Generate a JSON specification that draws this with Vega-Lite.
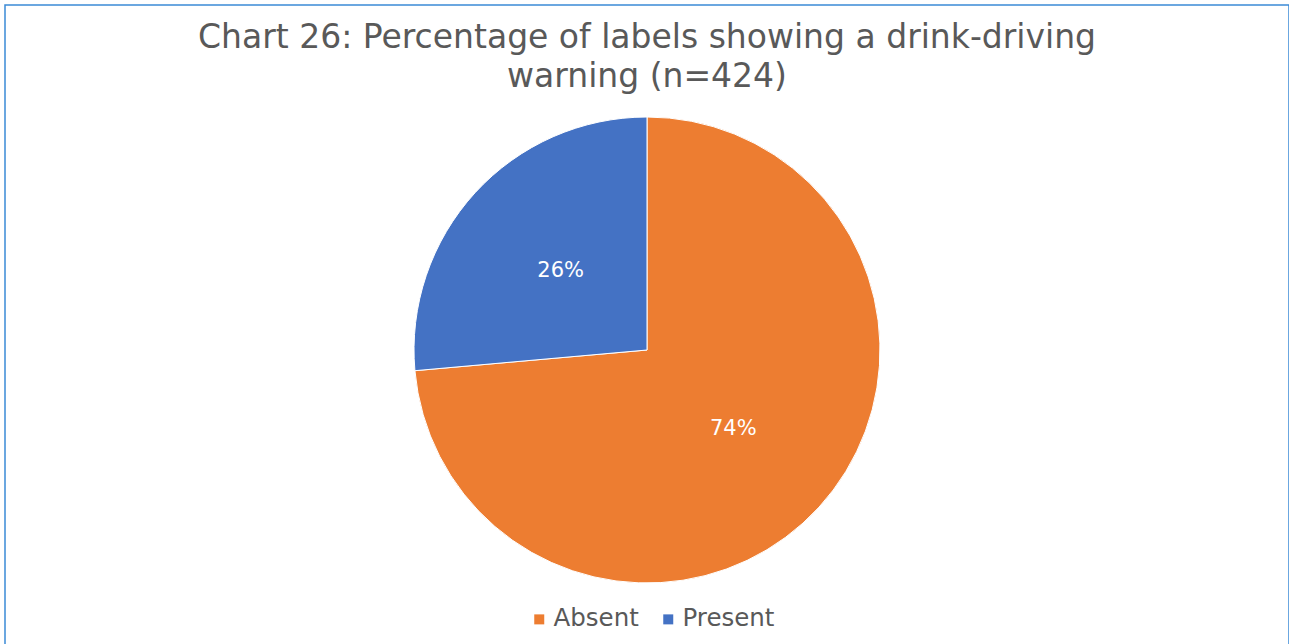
{
  "$schema": "https://vega.github.io/schema/vega-lite/v6.json",
  "width": 1284,
  "height": 690,
  "autosize": {"type": "none"},
  "padding": {"left": 5, "top": 5, "right": 0, "bottom": 0},
  "background": "white",
  "view": {"stroke": "#3b8ad6", "strokeWidth": 1.5, "fill": "white"},
  "title": {
    "text": ["Chart 26: Percentage of labels showing a drink-driving", "warning (n=424)"],
    "font": "DejaVu Sans",
    "fontSize": 33,
    "fontWeight": "normal",
    "color": "#595959",
    "lineHeight": 39,
    "offset": -89,
    "anchor": "middle"
  },
  "data": {
    "values": [
      {"category": "Absent", "count": 312, "label": "74%"},
      {"category": "Present", "count": 112, "label": "26%"}
    ]
  },
  "encoding": {
    "theta": {"field": "count", "type": "quantitative", "stack": true},
    "order": {"field": "category", "type": "nominal"}
  },
  "layer": [
    {
      "mark": {"type": "arc", "outerRadius": 233, "stroke": "white", "strokeWidth": 1},
      "encoding": {
        "color": {
          "field": "category",
          "type": "nominal",
          "scale": {"domain": ["Absent", "Present"], "range": ["#ED7D31", "#4472C4"]},
          "legend": {
            "title": null,
            "orient": "none",
            "direction": "horizontal",
            "legendX": 522,
            "legendY": 602,
            "symbolType": "square",
            "symbolSize": 100,
            "symbolStrokeWidth": 0,
            "labelFont": "DejaVu Sans",
            "labelFontSize": 24.5,
            "labelColor": "#595959",
            "columnPadding": 17,
            "labelOffset": 2
          }
        }
      }
    },
    {
      "mark": {"type": "text", "radius": 117, "font": "DejaVu Sans", "fontSize": 21, "color": "white"},
      "encoding": {"text": {"field": "label", "type": "nominal"}}
    }
  ]
}
